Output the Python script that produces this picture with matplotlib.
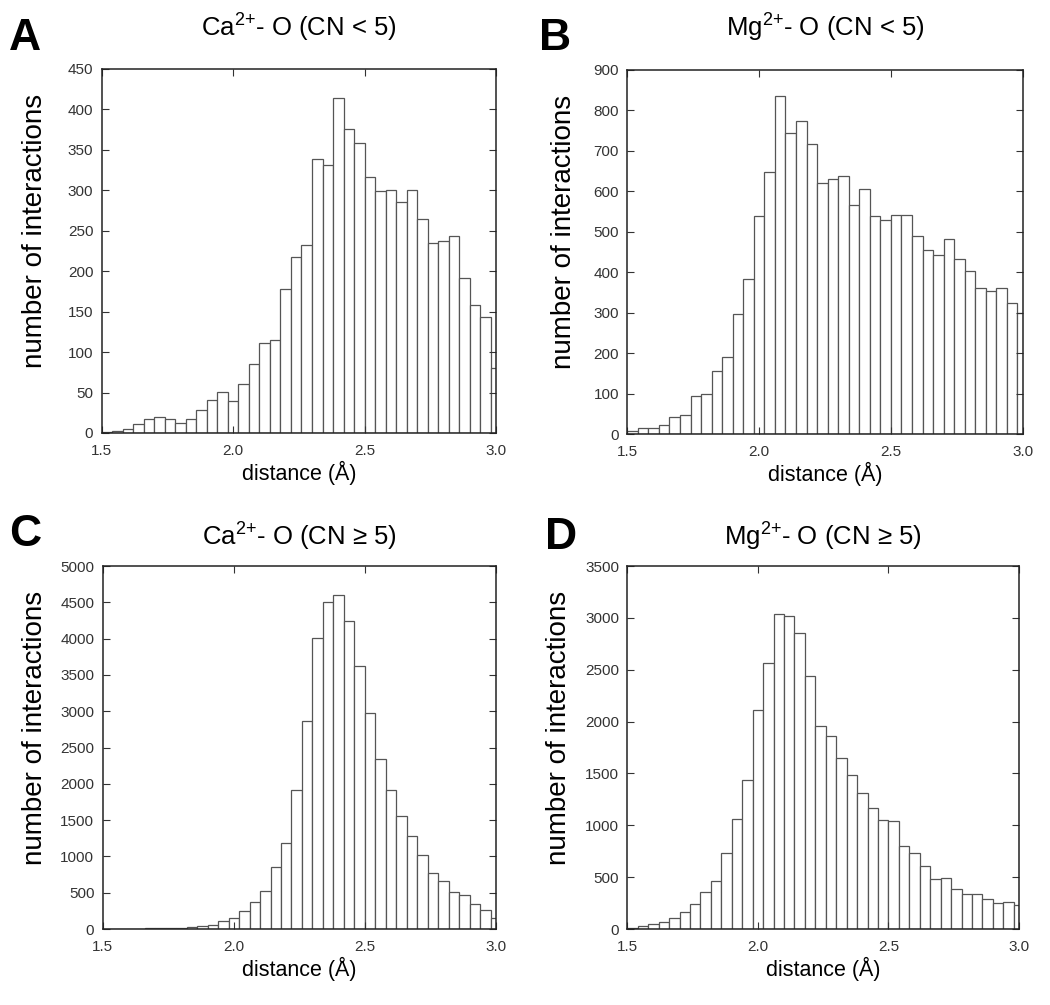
import matplotlib
matplotlib.use("Agg")
import matplotlib.pyplot as plt
import numpy as np

plt.rcParams['font.family'] = ['Liberation Sans', 'DejaVu Sans']
plt.rcParams['mathtext.fontset'] = 'custom'
plt.rcParams['mathtext.rm'] = 'Liberation Sans'
plt.rcParams['mathtext.default'] = 'regular'

# ---- data -------------------------------------------------------------
bin_start = 1.5
bin_width = 0.04
n_bins = 38

ca_low = [1, 3, 5, 11, 17, 20, 17, 12, 17, 28, 41, 51, 40, 61, 85, 111, 115, 178, 217, 233,
          339, 331, 414, 376, 358, 316, 299, 300, 286, 300, 265, 235, 237, 244, 192, 158, 143, 80]
mg_low = [8, 15, 15, 23, 41, 46, 95, 98, 157, 190, 297, 384, 540, 647, 836, 745, 773, 717, 620, 630,
          637, 567, 605, 538, 529, 542, 542, 490, 455, 443, 481, 432, 403, 361, 353, 362, 325, 299]
ca_high = [3, 3, 5, 5, 8, 10, 14, 20, 28, 40, 60, 110, 156, 244, 372, 524, 855, 1186, 1921, 2863,
           4003, 4508, 4596, 4242, 3626, 2969, 2348, 1921, 1553, 1278, 1016, 777, 657, 506, 473, 340, 267, 150]
mg_high = [10, 29, 51, 70, 109, 160, 240, 353, 465, 734, 1061, 1439, 2109, 2567, 3035, 3019, 2853, 2442, 1958, 1862,
           1644, 1487, 1311, 1167, 1054, 1038, 804, 734, 606, 478, 494, 388, 340, 333, 285, 247, 263, 230]

x_ticks = [1.5, 2.0, 2.5, 3.0]
x_tick_labels = ["1.5", "2.0", "2.5", "3.0"]

letters = ["A", "B", "C", "D"]
titles = [r"Ca$^{2{+}}$- O (CN < 5)", r"Mg$^{2{+}}$- O (CN < 5)",
          r"Ca$^{2{+}}$- O (CN ≥ 5)", r"Mg$^{2{+}}$- O (CN ≥ 5)"]
y_max = [450, 900, 5000, 3500]
y_step = [50, 100, 500, 500]
series = [ca_low, mg_low, ca_high, mg_high]

xlabel = "distance (Å)"
ylabel = "number of interactions"

# ---- layout (pixels) ---------------------------------------------------
W, H = 1050, 1005
boxes = [(101.7, 69, 496, 433), (627.3, 70, 1022.7, 434),
         (102.7, 566, 496, 929), (627.3, 566, 1019, 929)]
title_base = [37, 37, 546, 546]
letter_pos = [(9, 50), (539, 50), (9, 546), (545, 549)]
ylabel_right = [48, 577, 48, 572]

fig = plt.figure(figsize=(W / 100, H / 100), dpi=100)
edges = bin_start + bin_width * np.arange(n_bins)

for i in range(4):
    l, t, r, b = boxes[i]
    ax = fig.add_axes([l / W, 1 - b / H, (r - l) / W, (b - t) / H])
    ax.bar(edges, series[i], width=bin_width, align='edge', facecolor='white',
           edgecolor='#555555', linewidth=0.9)
    ax.set_xlim(1.5, 3.0)
    ax.set_ylim(0, y_max[i])
    ax.set_xticks(x_ticks)
    ax.set_xticklabels(x_tick_labels)
    ax.set_yticks(np.arange(0, y_max[i] + 1, y_step[i]))
    ax.tick_params(direction='in', top=True, right=True, length=5, width=0.8,
                   labelsize=11, labelcolor='#333333', color='#333333')
    ax.tick_params(axis='y', pad=6)
    ax.tick_params(axis='x', pad=8)
    for s in ax.spines.values():
        s.set_linewidth(1.1)
        s.set_color('#222222')
    ax.set_xlabel(xlabel, fontsize=15.5, labelpad=2)
    ax.set_ylabel(ylabel, fontsize=20)
    ax.yaxis.set_label_coords(-(l - ylabel_right[i]) / (r - l), 0.555)
    cx = (l + r) / 2
    fig.text(cx / W, 1 - title_base[i] / H, titles[i], fontsize=18.5,
             ha='center', va='baseline')
    lx, ly = letter_pos[i]
    fig.text(lx / W, 1 - ly / H, letters[i], fontsize=32, fontweight='bold',
             ha='left', va='baseline')

fig.savefig("out.png", dpi=100)
